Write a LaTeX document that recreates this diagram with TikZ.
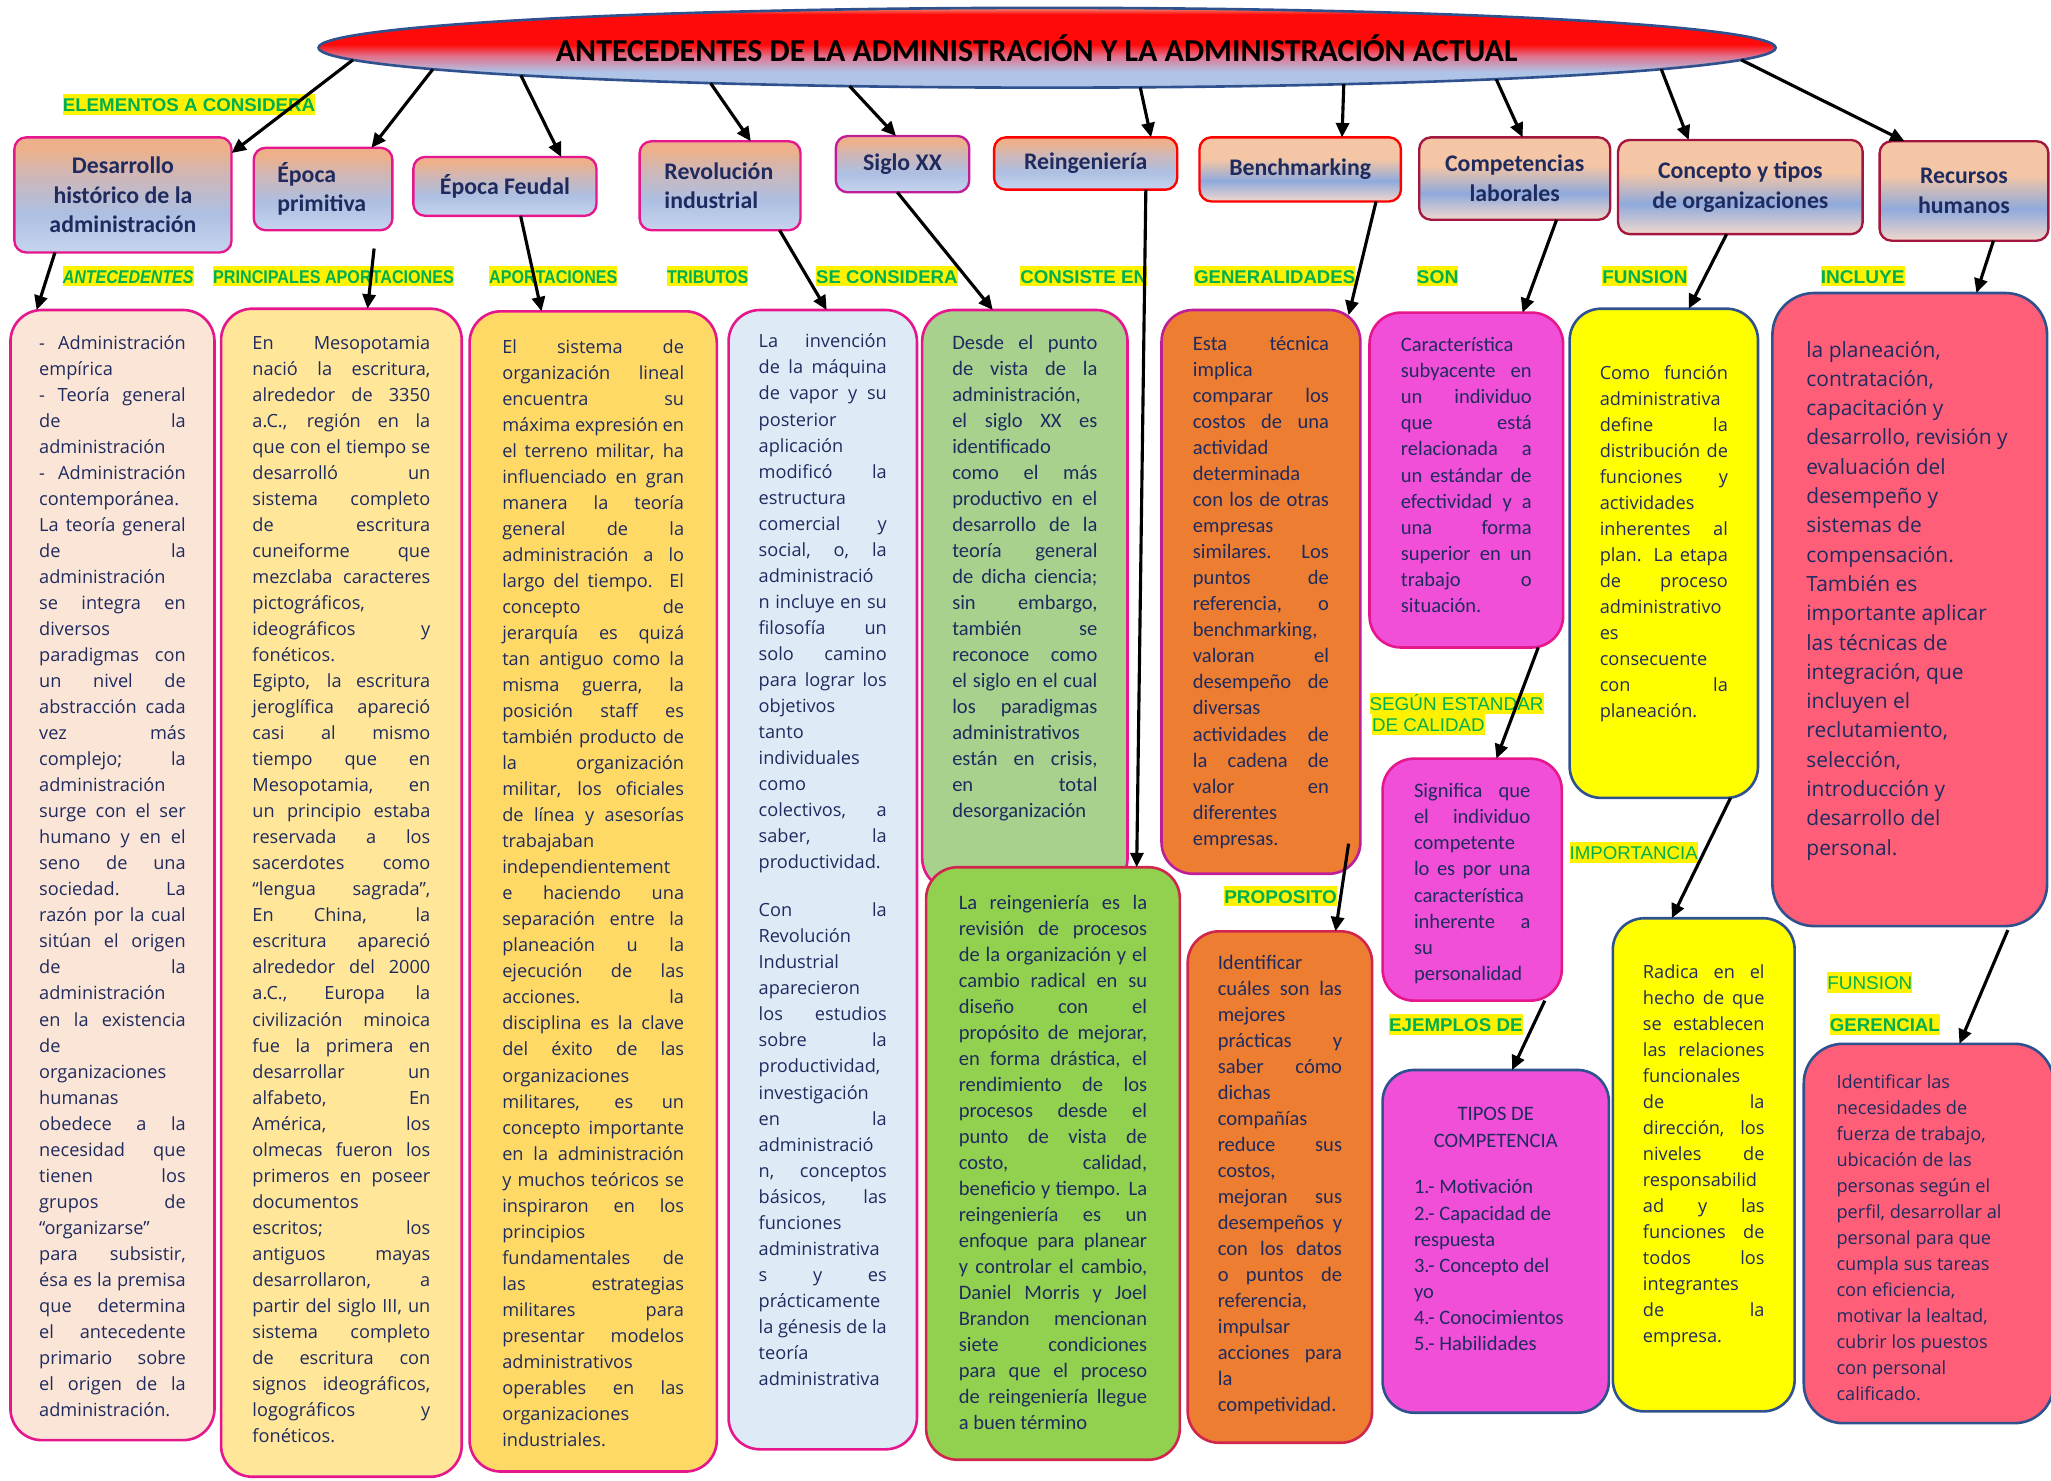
\documentclass[tikz,border=0pt]{standalone}
\usepackage{fontspec}
\setmainfont{Carlito}
\newfontfamily\osans{Open Sans}
\newfontfamily\lsans{Liberation Sans}
\usetikzlibrary{shapes.geometric,arrows.meta,calc}
\definecolor{navy}{HTML}{1F2B5E}
\definecolor{magB}{HTML}{E6168C}
\definecolor{purB}{HTML}{BF1E99}
\definecolor{crimB}{HTML}{D0264E}
\definecolor{dredB}{HTML}{A3163E}
\definecolor{blueB}{HTML}{2F528F}
\definecolor{lgreen}{HTML}{00B050}
\definecolor{cBa}{HTML}{FBE5D6}
\definecolor{cBb}{HTML}{FFE699}
\definecolor{cBc}{HTML}{FFD966}
\definecolor{cBd}{HTML}{DEEBF7}
\definecolor{cBe}{HTML}{A9D18E}
\definecolor{cBf}{HTML}{92D050}
\definecolor{cBg}{HTML}{ED7D31}
\definecolor{cBh}{HTML}{F24FD9}
\definecolor{cBi}{HTML}{FFFF00}
\definecolor{cBj}{HTML}{FF5E78}
\definecolor{eLB}{HTML}{B0C4E8}
\definecolor{ePk}{HTML}{E2708A}
\definecolor{eRd}{HTML}{FF0A0A}
\definecolor{eSal}{HTML}{F0907C}
\definecolor{hAa}{HTML}{EDB08A}
\definecolor{hAb}{HTML}{CDB7B8}
\definecolor{hAc}{HTML}{ADBFE2}
\definecolor{hAd}{HTML}{C6D4EE}
\definecolor{hBa}{HTML}{F5C6A5}
\definecolor{hBb}{HTML}{8FAADC}
\definecolor{hBc}{HTML}{F2D8CC}
\pgfdeclareverticalshading{eshade}{100bp}{color(0bp)=(eLB); color(25bp)=(eLB); color(35bp)=(eLB); color(45bp)=(ePk); color(52bp)=(eRd); color(71bp)=(eRd); color(75bp)=(eSal); color(100bp)=(eSal)}
\pgfdeclareverticalshading{hdrA}{100bp}{color(0bp)=(hAd); color(25bp)=(hAd); color(42bp)=(hAc); color(58bp)=(hAb); color(70bp)=(hAa); color(100bp)=(hAa)}
\pgfdeclareverticalshading{hdrB}{100bp}{color(0bp)=(hBc); color(25bp)=(hBc); color(41bp)=(hBb); color(58bp)=(hBa); color(100bp)=(hBa)}
\newcommand\JL[1]{\makebox[\linewidth][s]{#1}}
\newcommand\TBX[5]{#4\parbox[t][#2pt][t]{#1pt}{\vspace*{\dimexpr#3pt-\ht\strutbox\relax}\strut#5}}
\newcommand\FOs{\osans\fontsize{13.9}{19.9}\selectfont}
\newcommand\FCa{\normalfont\fontsize{15.7}{19.9}\selectfont}
\newcommand\FRb{\osans\fontsize{16}{22.4}\selectfont}
\newcommand\HLB[2]{{\setlength{\fboxsep}{0pt}\colorbox{yellow}{\rule[-2.6pt]{0pt}{16pt}\resizebox{#1pt}{\height}{#2}}}}
\begin{document}
\begin{tikzpicture}[x=1pt,y=-1pt,
  hdr/.style={draw, line width=1.8pt, rounded corners=9pt, inner sep=0pt, outer sep=0pt, anchor=north west, text=navy, font=\bfseries\fontsize{18.2}{22.7}\selectfont, align=center},
  tbx/.style={draw, line width=2pt, rounded corners=24pt, inner ysep=0pt, outer sep=0pt, anchor=north west, text=navy},
  lbl/.style={anchor=north west, inner sep=0pt, outer sep=0pt, text=lgreen, font=\lsans\bfseries\fontsize{14.1}{16}\selectfont},
  lblr/.style={lbl, font=\lsans\fontsize{14.1}{16}\selectfont},
  arr/.style={draw=black, line width=2.4pt, -{Triangle[length=11pt,width=10pt]}}]
\useasboundingbox (0,0) rectangle (1568,1131.5);

% title
\node[ellipse, draw=blueB, line width=2pt, shading=eshade, minimum width=1114pt, minimum height=61pt, inner sep=0pt, outer sep=0pt, text=black, font=\bfseries\fontsize{24.4}{28}\selectfont] (title) at (800.5,36.5) {\raisebox{-2.5pt}{\hspace*{-16pt}ANTECEDENTES DE LA ADMINISTRACIÓN Y LA ADMINISTRACIÓN ACTUAL}};

% header boxes
\node[hdr, draw=magB, shading=hdrA, minimum width=166pt, minimum height=88pt] (h1) at (11,105) {Desarrollo\\histórico de la\\administración};
\node[hdr, draw=magB, shading=hdrA, minimum width=106pt, minimum height=63pt, text width=70pt, align=left] (h2) at (194,113) {Época\\primitiva};
\node[hdr, draw=magB, shading=hdrA, minimum width=140pt, minimum height=45pt] (h3) at (316,120) {Época Feudal};
\node[hdr, draw=magB, shading=hdrA, minimum width=123pt, minimum height=68pt, text width=85pt, align=left] (h4) at (489,108) {Revolución\\industrial};
\node[hdr, draw=purB, shading=hdrA, minimum width=102pt, minimum height=43pt] (h5) at (639,104) {Siglo XX};
\node[hdr, draw=red, shading=hdrA, minimum width=140pt, minimum height=40pt] (h6) at (760,105) {Reingeniería};
\node[hdr, draw=red, shading=hdrB, minimum width=154pt, minimum height=49pt] (h7) at (917,105) {Benchmarking};
\node[hdr, draw=dredB, shading=hdrB, minimum width=146pt, minimum height=63pt] (h8) at (1085,105) {Competencias\\laborales};
\node[hdr, draw=dredB, shading=hdrB, minimum width=187pt, minimum height=72pt] (h9) at (1237,107) {Concepto y tipos\\de organizaciones};
\node[hdr, draw=dredB, shading=hdrB, minimum width=129pt, minimum height=76pt] (h10) at (1437,108) {Recursos\\humanos};

% text boxes
\node[tbx, draw=magB, fill=cBa, inner xsep=22pt] (b1) at (8,237) {\TBX{112}{864}{30}{\FOs}{%
\JL{- Administración}\\
empírica\\
\JL{- Teoría general}\\
\JL{de la}\\
administración\\
\JL{- Administración}\\
contemporánea.\\
\JL{La teoría general}\\
\JL{de la}\\
administración\\
\JL{se integra en}\\
diversos\\
\JL{paradigmas con}\\
\JL{un nivel de}\\
\JL{abstracción cada}\\
\JL{vez más}\\
\JL{complejo; la}\\
administración\\
\JL{surge con el ser}\\
\JL{humano y en el}\\
\JL{seno de una}\\
\JL{sociedad. La}\\
\JL{razón por la cual}\\
\JL{sitúan el origen}\\
\JL{de la}\\
administración\\
\JL{en la existencia}\\
de\\
organizaciones\\
humanas\\
\JL{obedece a la}\\
\JL{necesidad que}\\
\JL{tienen los}\\
\JL{grupos de}\\
“organizarse”\\
\JL{para subsistir,}\\
\JL{ésa es la premisa}\\
\JL{que determina}\\
\JL{el antecedente}\\
\JL{primario sobre}\\
\JL{el origen de la}\\
administración.}};

\node[tbx, draw=magB, fill=cBb, inner xsep=24pt] (b2) at (169,236) {\TBX{136}{893}{31}{\FOs}{%
\JL{En Mesopotamia}\\
\JL{nació la escritura,}\\
\JL{alrededor de 3350}\\
\JL{a.C., región en la}\\
\JL{que con el tiempo se}\\
\JL{desarrolló un}\\
\JL{sistema completo}\\
\JL{de escritura}\\
\JL{cuneiforme que}\\
\JL{mezclaba caracteres}\\
pictográficos,\\
\JL{ideográficos y}\\
fonéticos.\\
\JL{Egipto, la escritura}\\
\JL{jeroglífica apareció}\\
\JL{casi al mismo}\\
\JL{tiempo que en}\\
\JL{Mesopotamia, en}\\
\JL{un principio estaba}\\
\JL{reservada a los}\\
\JL{sacerdotes como}\\
\JL{“lengua sagrada”,}\\
\JL{En China, la}\\
\JL{escritura apareció}\\
\JL{alrededor del 2000}\\
\JL{a.C., Europa la}\\
\JL{civilización minoica}\\
\JL{fue la primera en}\\
\JL{desarrollar un}\\
\JL{alfabeto, En}\\
\JL{América, los}\\
\JL{olmecas fueron los}\\
\JL{primeros en poseer}\\
documentos\\
\JL{escritos; los}\\
\JL{antiguos mayas}\\
\JL{desarrollaron, a}\\
\JL{partir del siglo III, un}\\
\JL{sistema completo}\\
\JL{de escritura con}\\
\JL{signos ideográficos,}\\
\JL{logográficos y}\\
fonéticos.}};

\node[tbx, draw=magB, fill=cBc, inner xsep=25pt] (b3) at (359,238) {\TBX{139}{887}{32}{\FOs}{%
\JL{El sistema de}\\
\JL{organización lineal}\\
\JL{encuentra su}\\
\JL{máxima expresión en}\\
\JL{el terreno militar, ha}\\
\JL{influenciado en gran}\\
\JL{manera la teoría}\\
\JL{general de la}\\
\JL{administración a lo}\\
\JL{largo del tiempo. El}\\
\JL{concepto de}\\
\JL{jerarquía es quizá}\\
\JL{tan antiguo como la}\\
\JL{misma guerra, la}\\
\JL{posición staff es}\\
\JL{también producto de}\\
\JL{la organización}\\
\JL{militar, los oficiales}\\
\JL{de línea y asesorías}\\
trabajaban\\
independientement\\
\JL{e haciendo una}\\
\JL{separación entre la}\\
\JL{planeación u la}\\
\JL{ejecución de las}\\
\JL{acciones. la}\\
\JL{disciplina es la clave}\\
\JL{del éxito de las}\\
organizaciones\\
\JL{militares, es un}\\
\JL{concepto importante}\\
\JL{en la administración}\\
\JL{y muchos teóricos se}\\
\JL{inspiraron en los}\\
principios\\
\JL{fundamentales de}\\
\JL{las estrategias}\\
\JL{militares para}\\
\JL{presentar modelos}\\
administrativos\\
\JL{operables en las}\\
organizaciones\\
industriales.}};

\node[tbx, draw=magB, fill=cBd, inner xsep=23pt] (b4) at (557,237) {\TBX{98}{871}{29}{\FOs}{%
\JL{La invención}\\
\JL{de la máquina}\\
\JL{de vapor y su}\\
posterior\\
aplicación\\
\JL{modificó la}\\
estructura\\
\JL{comercial y}\\
\JL{social, o, la}\\
administració\\
\JL{n incluye en su}\\
\JL{filosofía un}\\
\JL{solo camino}\\
\JL{para lograr los}\\
objetivos\\
tanto\\
individuales\\
como\\
\JL{colectivos, a}\\
\JL{saber, la}\\
productividad.\\[17pt]
\JL{Con la}\\
Revolución\\
Industrial\\
aparecieron\\
\JL{los estudios}\\
\JL{sobre la}\\
productividad,\\
investigación\\
\JL{en la}\\
administració\\
\JL{n, conceptos}\\
\JL{básicos, las}\\
funciones\\
administrativa\\
\JL{s y es}\\
prácticamente\\
\JL{la génesis de la}\\
teoría\\
administrativa}};

\node[tbx, draw=magB, fill=cBe, inner xsep=23pt] (b5) at (705,237) {\TBX{111}{443}{30}{\FCa}{%
\JL{Desde el punto}\\
\JL{de vista de la}\\
administración,\\
\JL{el siglo XX es}\\
identificado\\
\JL{como el más}\\
\JL{productivo en el}\\
\JL{desarrollo de la}\\
\JL{teoría general}\\
\JL{de dicha ciencia;}\\
\JL{sin embargo,}\\
\JL{también se}\\
\JL{reconoce como}\\
\JL{el siglo en el cual}\\
\JL{los paradigmas}\\
administrativos\\
\JL{están en crisis,}\\
\JL{en total}\\
desorganización}};

\node[tbx, draw=crimB, fill=cBf, inner xsep=25pt] (b6) at (708,663) {\TBX{144}{453}{32}{\FCa}{%
\JL{La reingeniería es la}\\
\JL{revisión de procesos}\\
\JL{de la organización y el}\\
\JL{cambio radical en su}\\
\JL{diseño con el}\\
\JL{propósito de mejorar,}\\
\JL{en forma drástica, el}\\
\JL{rendimiento de los}\\
\JL{procesos desde el}\\
\JL{punto de vista de}\\
\JL{costo, calidad,}\\
\JL{beneficio y tiempo. La}\\
\JL{reingeniería es un}\\
\JL{enfoque para planear}\\
\JL{y controlar el cambio,}\\
\JL{Daniel Morris y Joel}\\
\JL{Brandon mencionan}\\
\JL{siete condiciones}\\
\JL{para que el proceso}\\
\JL{de reingeniería llegue}\\
a buen término}};

\node[tbx, draw=purB, fill=cBg, inner xsep=24pt] (b7) at (888,237) {\TBX{104}{431}{31}{\FCa}{%
\JL{Esta técnica}\\
implica\\
\JL{comparar los}\\
\JL{costos de una}\\
actividad\\
determinada\\
\JL{con los de otras}\\
empresas\\
\JL{similares. Los}\\
\JL{puntos de}\\
\JL{referencia, o}\\
benchmarking,\\
\JL{valoran el}\\
\JL{desempeño de}\\
diversas\\
\JL{actividades de}\\
\JL{la cadena de}\\
\JL{valor en}\\
diferentes\\
empresas.}};

\node[tbx, draw=crimB, fill=cBg, inner xsep=23pt] (b8) at (908,712) {\TBX{95}{391}{29}{\FCa}{%
Identificar\\
\JL{cuáles son las}\\
mejores\\
\JL{prácticas y}\\
\JL{saber cómo}\\
dichas\\
compañías\\
\JL{reduce sus}\\
costos,\\
\JL{mejoran sus}\\
\JL{desempeños y}\\
\JL{con los datos}\\
\JL{o puntos de}\\
referencia,\\
impulsar\\
\JL{acciones para}\\
la\\
competividad.}};

\node[tbx, draw=magB, fill=cBh, inner xsep=24pt] (b9) at (1047,239) {\TBX{100}{256}{30}{\FCa}{%
Característica\\
\JL{subyacente en}\\
\JL{un individuo}\\
\JL{que está}\\
\JL{relacionada a}\\
\JL{un estándar de}\\
\JL{efectividad y a}\\
\JL{una forma}\\
\JL{superior en un}\\
\JL{trabajo o}\\
situación.}};

\node[tbx, draw=magB, fill=cBh, inner xsep=24pt] (b10) at (1057,580) {\TBX{89}{185}{30}{\FCa}{%
\JL{Significa que}\\
\JL{el individuo}\\
competente\\
\JL{lo es por una}\\
característica\\
\JL{inherente a}\\
su\\
personalidad}};

\node[tbx, draw=blueB, fill=cBh, inner xsep=24pt] (b11) at (1057,818) {\TBX{125}{262}{39}{\FCa}{%
\makebox[\linewidth]{TIPOS DE}\\
\makebox[\linewidth]{COMPETENCIA}\\[16pt]
1.- Motivación\\
2.- Capacidad de\\
respuesta\\
3.- Concepto del\\
yo\\
4.- Conocimientos\\
5.- Habilidades}};

\node[tbx, draw=blueB, fill=cBi, inner xsep=23pt] (b12) at (1200,236) {\TBX{98}{374}{54}{\FOs}{%
\JL{Como función}\\
administrativa\\
\JL{define la}\\
\JL{distribución de}\\
\JL{funciones y}\\
actividades\\
\JL{inherentes al}\\
\JL{plan. La etapa}\\
\JL{de proceso}\\
administrativo\\
es\\
consecuente\\
\JL{con la}\\
planeación.}};

\node[tbx, draw=blueB, fill=cBi, inner xsep=23pt] (b13) at (1233,702) {\TBX{93}{377}{46}{\FOs}{%
\JL{Radica en el}\\
\JL{hecho de que}\\
\JL{se establecen}\\
\JL{las relaciones}\\
funcionales\\
\JL{de la}\\
\JL{dirección, los}\\
\JL{niveles de}\\
responsabilid\\
\JL{ad y las}\\
\JL{funciones de}\\
\JL{todos los}\\
integrantes\\
\JL{de la}\\
empresa.}};

\node[tbx, draw=blueB, fill=cBj, inner xsep=26pt, rounded corners=32pt] (b14) at (1355,224) {\TBX{158}{484}{49}{\FRb}{%
la planeación,\\
contratación,\\
capacitación y\\
desarrollo, revisión y\\
evaluación del\\
desempeño y\\
sistemas de\\
compensación.\\
También es\\
importante aplicar\\
las técnicas de\\
integración, que\\
incluyen el\\
reclutamiento,\\
selección,\\
introducción y\\
desarrollo del\\
personal.}};

\node[tbx, draw=blueB, fill=cBj, inner xsep=25pt, rounded corners=30pt] (b15) at (1379,798) {\TBX{141}{290}{34}{\FOs}{%
Identificar las\\
necesidades de\\
fuerza de trabajo,\\
ubicación de las\\
personas según el\\
perfil, desarrollar al\\
personal para que\\
cumpla sus tareas\\
con eficiencia,\\
motivar la lealtad,\\
cubrir los puestos\\
con personal\\
calificado.}};

% labels
\node[lbl] (l0) at (48,72) {\HLB{193}{ELEMENTOS A CONSIDERA}};
\node[lbl] (l1) at (48,203) {\HLB{100}{\itshape ANTECEDENTES}};
\node[lbl] (l2) at (163,203) {\HLB{184}{PRINCIPALES APORTACIONES}};
\node[lbl] (l3) at (374,203) {\HLB{98}{APORTACIONES}};
\node[lbl] (l4) at (510,203) {\HLB{62}{TRIBUTOS}};
\node[lbl] (l5) at (624,203) {\HLB{108}{SE CONSIDERA}};
\node[lbl] (l6) at (780,203) {\HLB{97}{CONSISTE EN}};
\node[lbl] (l7) at (913,203) {\HLB{123}{GENERALIDADES}};
\node[lbl] (l8) at (1083,203) {\HLB{32}{SON}};
\node[lbl] (l9) at (1225,203) {\HLB{65}{FUNSION}};
\node[lbl] (l10) at (1392,203) {\HLB{64}{INCLUYE}};
\node[lblr, align=left] (l11) at (1047,530) {\HLB{133}{SEGÚN ESTANDAR}\\\hspace*{2pt}\HLB{86}{DE CALIDAD}};
\node[lbl] (l12) at (936,677) {\HLB{86}{PROPOSITO}};
\node[lblr] (l13) at (1200,644) {\HLB{98}{IMPORTANCIA}};
\node[lbl] (l14) at (1062,775) {\HLB{102}{EJEMPLOS DE}};
\node[lblr] (l15) at (1397,743) {\HLB{65}{FUNSION}};
\node[lbl] (l16) at (1399,775) {\HLB{84}{GERENCIAL}};

% arrows from title
\draw[arr] (title.181.4) -- ($(h1.north east)+(0,12)$);
\draw[arr] (title.182.25) -- ($(h2.north west)+(90,0)$);
\draw[arr] (title.183.1) -- ($(h3.north west)+(113,0)$);
\draw[arr] (title.186.2) -- ($(h4.north west)+(85,0)$);
\draw[arr] (title.191.8) -- ($(h5.north west)+(46,0)$);
\draw[arr] (title.337.6) -- ($(h6.north west)+(120,0)$);
\draw[arr] (title.353.6) -- ($(h7.north west)+(109,0)$);
\draw[arr] (title.356.7) -- ($(h8.north west)+(79,0)$);
\draw[arr] (title.358.5) -- ($(h9.north west)+(54,0)$);
\draw[arr] (title.359.2) -- ($(h10.north west)+(19,0)$);

% arrows from headers
\draw[arr] ($(h1.south west)+(31,0)$) -- ($(b1.north west)+(20,0)$);
\draw[arr] ($(h2.south west)+(92,14)$) -- ($(b2.north west)+(112,0)$);
\draw[arr] ($(h3.south west)+(82,0)$) -- ($(b3.north west)+(55,0)$);
\draw[arr] ($(h4.south west)+(107,0)$) -- ($(b4.north west)+(75,0)$);
\draw[arr] ($(h5.south west)+(47,0)$) -- ($(b5.north west)+(54,0)$);
\draw[arr] ($(h6.south west)+(116,0)$) -- ($(b6.north west)+(161,0)$);
\draw[arr] ($(h7.south west)+(135,0)$) -- ($(b7.north west)+(143,4)$);
\draw[arr] ($(h8.south west)+(105,0)$) -- ($(b9.north west)+(117,0)$);
\draw[arr] ($(h9.south west)+(83,0)$) -- ($(b12.north west)+(91,0)$);
\draw[arr] ($(h10.south west)+(87,0)$) -- ($(b14.north west)+(156,0)$);

% arrows between boxes
\draw[arr] ($(b7.south east)+(-9,-23)$) -- ($(b8.north west)+(113,0)$);
\draw[arr] ($(b9.south east)+(-19,0)$) -- ($(b10.north west)+(87,0)$);
\draw[arr] ($(b10.south east)+(-13,0)$) -- ($(b11.north west)+(99,0)$);
\draw[arr] ($(b12.south east)+(-21,0)$) -- ($(b13.north west)+(45,0)$);
\draw[arr] ($(b14.south east)+(-30,3)$) -- ($(b15.north west)+(119,0)$);
\end{tikzpicture}
\end{document}
